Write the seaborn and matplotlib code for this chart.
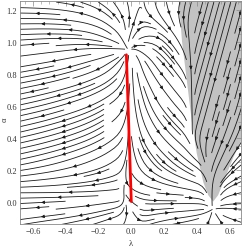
import numpy as np
import matplotlib
matplotlib.use("Agg")
import matplotlib.pyplot as plt
import seaborn as sns

# flow directions (degrees) on a coarse grid
x_grid = [-0.7, -0.6, -0.5, -0.4, -0.3, -0.2, -0.1, 0.0, 0.1, 0.2, 0.3, 0.4, 0.5, 0.6, 0.7]
y_grid = [-0.15, 0.05, 0.25, 0.45, 0.65, 0.85, 1.05, 1.25]
flow_angles = [
    [190, 190, 190, 192, 195, 200, 205, 270, 20, 15, 12, 20, 90, 150, 160],     # y = -0.15
    [180, 180, 180, 181, 181, 182, 183, 330, 350, 355, 355, 350, 265, 200, 190],  # y = 0.05
    [192, 193, 195, 197, 200, 205, 215, 280, 305, 315, 320, 320, 250, 240, 215],  # y = 0.25
    [193, 194, 196, 198, 202, 210, 222, 275, 295, 310, 315, 255, 255, 250, 250],  # y = 0.45
    [192, 193, 195, 197, 200, 207, 220, 272, 290, 305, 310, 255, 255, 255, 255],  # y = 0.65
    [190, 190, 192, 195, 198, 205, 225, 270, 300, 310, 305, 255, 255, 255, 255],  # y = 0.85
    [182, 182, 180, 178, 172, 160, 140, 70, 10, 320, 295, 255, 255, 255, 255],    # y = 1.05
    [178, 177, 175, 170, 163, 150, 125, 100, 275, 285, 255, 255, 255, 255, 255],  # y = 1.25
]

# shaded (excluded) region outline
gray_x = [0.29, 0.31, 0.34, 0.37, 0.40, 0.44, 0.47, 0.50, 0.53, 0.57, 0.62, 0.67, 0.67, 0.29]
gray_y = [1.26, 1.00, 0.75, 0.50, 0.30, 0.12, 0.04, 0.00, 0.04, 0.14, 0.27, 0.38, 1.26, 1.26]

# red trajectory
red_x = [0.0, -0.03]
red_y = [0.0, 0.92]

sns.set_theme(style="white")
plt.rcParams['font.family'] = ['Liberation Serif', 'DejaVu Serif']

fig = plt.figure(figsize=(2.49, 2.53), dpi=100)
ax = fig.add_axes([0.08, 0.111, 0.888, 0.883])

ax.fill(gray_x, gray_y, color='#c2c2c2', lw=0, zorder=0)

ang = np.deg2rad(np.array(flow_angles, dtype=float))
U = np.cos(ang)
V = np.sin(ang)
ax.streamplot(np.array(x_grid), np.array(y_grid), U, V, density=1.4,
              color='#1a1a1a', linewidth=0.6, arrowsize=0.45,
              arrowstyle='-|>', maxlength=1.5, zorder=2)

sns.lineplot(x=red_x, y=red_y, color='red', lw=2.0, sort=False, ax=ax, zorder=3)

ax.set_xlim(-0.68, 0.67)
ax.set_ylim(-0.14, 1.26)
ax.set_xticks(np.arange(-0.6, 0.61, 0.2))
ax.set_yticks(np.arange(0.0, 1.21, 0.2))
ax.set_xticklabels(['\u22120.6', '\u22120.4', '\u22120.2', '0.0', '0.2', '0.4', '0.6'])
ax.set_yticklabels(['0.0', '0.2', '0.4', '0.6', '0.8', '1.0', '1.2'])
ax.set_xticks(np.arange(-0.65, 0.66, 0.05), minor=True)
ax.set_yticks(np.arange(-0.1, 1.26, 0.05), minor=True)
ax.tick_params(which='both', direction='in', top=True, right=True, color='#888888',
               labelsize=6, labelcolor='#333333', pad=2)
ax.tick_params(which='major', length=3.5, width=0.5)
ax.tick_params(which='minor', length=2, width=0.4)
for s in ax.spines.values():
    s.set_color('#888888')
    s.set_linewidth(0.6)

ax.set_xlabel('\u03bb', fontsize=6, color='#333333', labelpad=3)
ax.set_ylabel('\u03b1', fontsize=6, color='#333333')
ax.yaxis.set_label_coords(-0.05, 0.47)

fig.savefig('out.png', dpi=100)
